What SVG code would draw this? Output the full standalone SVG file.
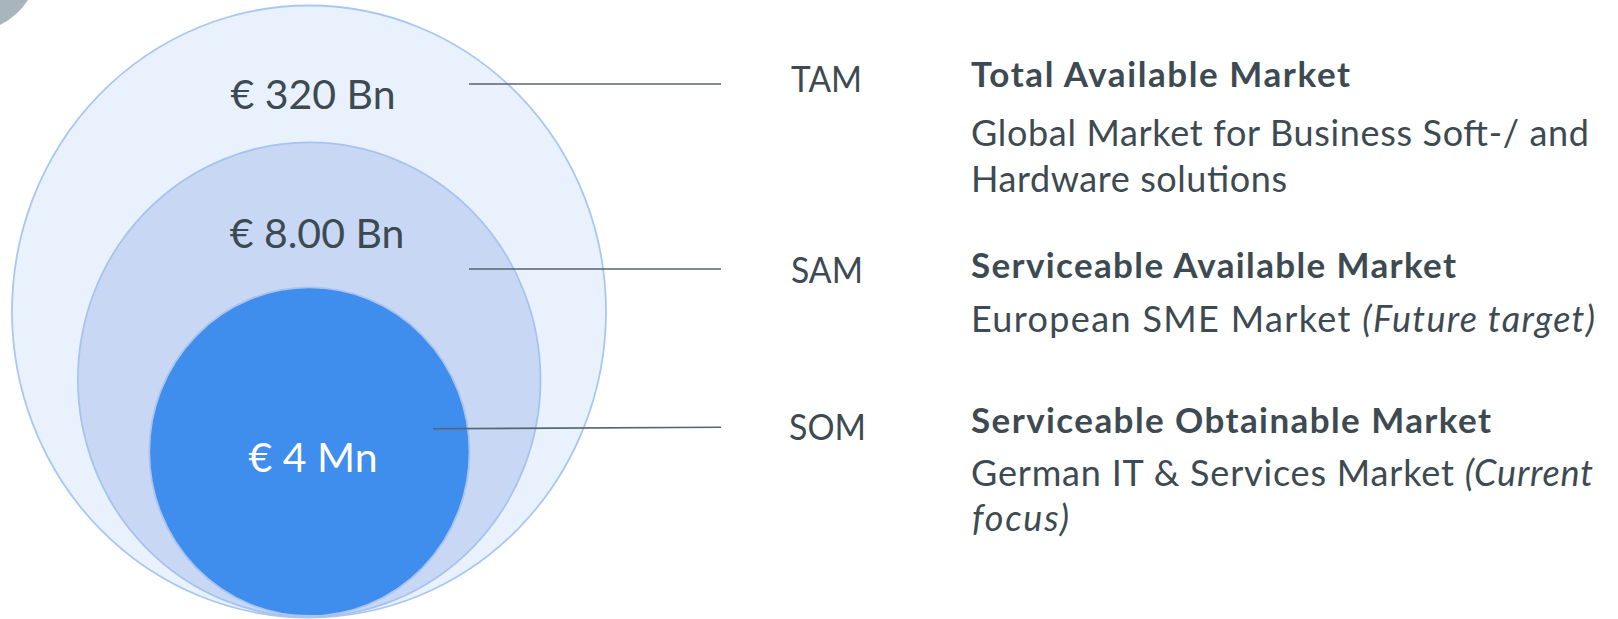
<svg xmlns="http://www.w3.org/2000/svg" width="1618" height="619" viewBox="0 0 1618 619">
<style>
.lbl{font-family:Lato,"Open Sans",sans-serif;fill:#3d4a52}
.val{font-size:41px;text-anchor:middle}
.abbr{font-size:36px}
.ttl{font-size:35px;font-weight:bold}
.desc{font-size:36px}
.conn{stroke:#56656e;stroke-width:1.6;fill:none}
</style>
<rect width="1618" height="619" fill="#ffffff"/>
<path d="M0,0 L28,0 A72,72 0 0 1 0,25 Z" fill="#a9b5bc"/>
<g id="tam-circle">
<ellipse cx="309" cy="311.5" rx="297" ry="306" fill="#e9f2fc" stroke="#a9c7f3" stroke-width="1.8"/>
<text class="lbl val" x="313" y="109">€ 320 Bn</text>
</g>
<g id="sam-circle">
<ellipse cx="309.2" cy="379.6" rx="231.3" ry="237.2" fill="#c8d8f4" stroke="#a6c3f0" stroke-width="1.8"/>
<text class="lbl val" x="317" y="248">€ 8.00 Bn</text>
</g>
<g id="som-circle">
<ellipse cx="309.4" cy="451.7" rx="160.1" ry="164.3" fill="#3f8ded" stroke="#a9c4ef" stroke-width="1.8"/>
<text class="lbl val" x="313" y="472" style="fill:#ffffff">€ 4 Mn</text>
</g>
<g id="connectors">
<line class="conn" x1="469" y1="84" x2="721" y2="84"/>
<line class="conn" x1="469" y1="269" x2="721" y2="269"/>
<line class="conn" x1="433" y1="428.7" x2="721" y2="427.3"/>
</g>
<g id="tam-label">
<text class="lbl abbr" x="791" y="92" textLength="71" lengthAdjust="spacingAndGlyphs">TAM</text>
<text class="lbl ttl" x="971" y="87" textLength="379" lengthAdjust="spacing">Total Available Market</text>
<text class="lbl desc" x="971" y="146" textLength="618" lengthAdjust="spacing">Global Market for Business Soft-/ and</text>
<text class="lbl desc" x="971" y="192" textLength="316" lengthAdjust="spacing">Hardware solutions</text>
</g>
<g id="sam-label">
<text class="lbl abbr" x="791" y="283" textLength="72" lengthAdjust="spacingAndGlyphs">SAM</text>
<text class="lbl ttl" x="971" y="278" textLength="485" lengthAdjust="spacing">Serviceable Available Market</text>
<text class="lbl desc" x="971" y="332" textLength="624" lengthAdjust="spacing">European SME Market <tspan font-style="italic">(Future target)</tspan></text>
</g>
<g id="som-label">
<text class="lbl abbr" x="789" y="440" textLength="77" lengthAdjust="spacingAndGlyphs">SOM</text>
<text class="lbl ttl" x="971" y="433" textLength="520" lengthAdjust="spacing">Serviceable Obtainable Market</text>
<text class="lbl desc" x="971" y="486" textLength="622" lengthAdjust="spacing">German IT &amp; Services Market <tspan font-style="italic">(Current</tspan></text>
<text class="lbl desc" x="972" y="531" font-style="italic" textLength="97" lengthAdjust="spacing">focus)</text>
</g>
</svg>
